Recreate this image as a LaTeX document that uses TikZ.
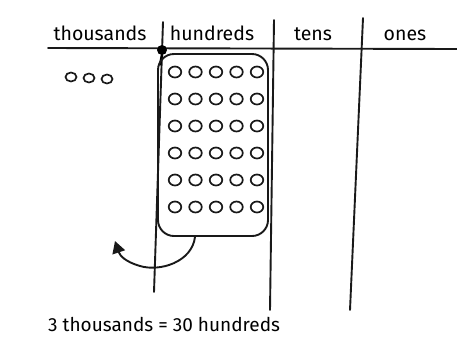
\documentclass[tikz,border=0pt]{standalone}
\usepackage{fontspec}
\setmainfont{Fira Sans}
\usetikzlibrary{arrows.meta,shapes.geometric}
\begin{document}
\begin{tikzpicture}[x=1pt,y=-1pt,
  pen/.style={line width=1.9pt,line cap=round,black!90},
  hd/.style={font=\fontsize{19.5}{20}\selectfont,inner sep=0pt,anchor=base},
  chip/.style={draw,line width=1.7pt,ellipse,minimum width=12.5pt,minimum height=11pt,inner sep=0pt,black!90},
  tchip/.style={draw,line width=1.7pt,ellipse,minimum width=11pt,minimum height=9pt,inner sep=0pt,black!90}]
\useasboundingbox (0,0) rectangle (457,341);
% grid lines
\coordinate (hL) at (48,48);
\coordinate (hR) at (457,49);
\draw[pen] (hL) -- (hR);
\coordinate (v1t) at (163,22); \coordinate (v1b) at (154,292);
\coordinate (v2t) at (274,20); \coordinate (v2b) at (270,310);
\coordinate (v3t) at (363,18); \coordinate (v3b) at (350,310);
\draw[pen] (v1t) -- (v1b);
\draw[pen] (v2t) -- (v2b);
\draw[pen] (v3t) -- (v3b);
% headings
\node[hd] (th) at (100,40) {thousands};
\node[hd] (hu) at (212,40) {hundreds};
\node[hd] (te) at (313,40) {tens};
\node[hd] (on) at (405,40) {ones};
% dot
\node[circle,fill=black,inner sep=0pt,minimum size=10pt] (dot) at (162,50) {};
\draw[line width=2.6pt] (dot.south) -- ++(-2,10);
% thousands chips
\node[tchip] (t1) at (71,77) {};
\node[tchip] (t2) at (89,78) {};
\node[tchip] (t3) at (107,79) {};
% hundreds box
\node[draw,line width=1.9pt,rounded corners=16pt,minimum width=110pt,minimum height=182pt,black!90] (box) at (213,145) {};
\foreach \r in {0,...,5}{
  \foreach \c in {0,...,4}{
    \node[chip] (c\r\c) at (175+20.5*\c,72+27*\r) {};
  }
}
% arrow
\coordinate (atip) at (115,241);
\draw[line width=1.9pt,black!90,-{Triangle[length=12pt,width=13pt]}] (box.south) ++(-18,0) coordinate (astart) .. controls (192,262) and (160,272) .. (140,266) .. controls (126,262) and (120,256) .. (atip);
% bottom label
\node[font=\fontsize{19}{20}\selectfont,anchor=base west,inner sep=0pt] (eq) at (48,331) {3 thousands = 30 hundreds};
\end{tikzpicture}
\end{document}
